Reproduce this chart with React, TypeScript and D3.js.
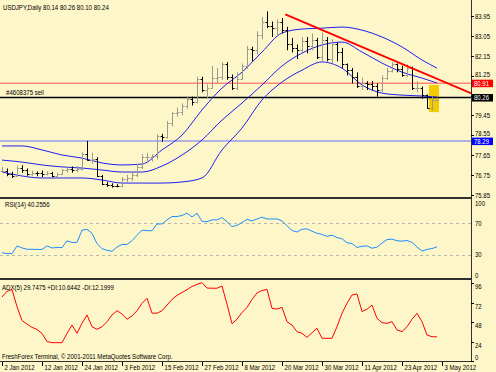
import { useEffect, useRef } from "react";
import * as d3 from "d3";

const W = 496;
const H = 372;

// daily bars [open, high, low, close], 2 Jan 2012 .. 2 May 2012
const bars: number[][] = [
  [76.95, 77.12, 76.84, 76.95], [76.95, 77.05, 76.7, 76.78], [76.78, 76.9, 76.62, 76.72], [76.72, 77.18, 76.68, 77.08],
  [77.08, 77.2, 76.85, 76.98], [76.98, 77.05, 76.72, 76.8], [76.8, 76.95, 76.72, 76.86], [76.86, 76.92, 76.7, 76.84],
  [76.84, 76.96, 76.66, 76.8], [76.8, 76.92, 76.74, 76.86], [76.86, 76.9, 76.66, 76.72], [76.72, 76.86, 76.68, 76.78],
  [76.78, 77.02, 76.75, 76.96], [76.96, 77.1, 76.86, 77.04], [77.04, 77.14, 76.86, 76.96], [76.96, 77.16, 76.88, 77.02],
  [77.02, 77.78, 76.96, 77.7], [77.7, 78.3, 77.4, 77.45], [77.45, 77.76, 77.26, 77.5], [77.5, 77.56, 76.66, 76.7],
  [76.7, 76.76, 76.3, 76.36], [76.36, 76.44, 76.22, 76.3], [76.3, 76.38, 76.18, 76.26], [76.26, 76.34, 76.2, 76.24],
  [76.24, 76.66, 76.2, 76.58], [76.58, 76.76, 76.44, 76.62], [76.62, 76.86, 76.48, 76.76], [76.76, 77.26, 76.66, 77.12],
  [77.12, 77.7, 77.02, 77.56], [77.56, 77.76, 77.32, 77.56], [77.56, 77.7, 77.36, 77.6], [77.6, 78.6, 77.46, 78.5],
  [78.5, 78.62, 78.26, 78.46], [78.46, 79.2, 78.4, 79.1], [79.1, 79.6, 78.96, 79.56], [79.56, 79.8, 79.4, 79.6],
  [79.6, 80.0, 79.46, 79.86], [79.86, 80.3, 79.76, 80.2], [80.2, 80.3, 79.9, 80.06], [80.06, 81.2, 80.0, 81.1],
  [81.1, 81.2, 80.5, 80.6], [80.6, 80.86, 80.2, 80.7], [80.7, 81.7, 80.66, 81.16], [81.16, 81.6, 80.9, 81.2],
  [81.2, 81.86, 81.06, 81.8], [81.8, 81.86, 81.06, 81.2], [81.2, 81.3, 80.6, 80.7], [80.7, 81.4, 80.6, 81.1],
  [81.1, 81.8, 81.06, 81.7], [81.7, 82.6, 81.56, 82.46], [82.46, 82.56, 81.9, 82.4], [82.4, 83.26, 82.2, 83.1],
  [83.1, 83.9, 82.9, 83.7], [83.7, 84.16, 83.4, 83.5], [83.5, 83.7, 83.0, 83.4], [83.4, 83.8, 83.06, 83.7],
  [83.7, 83.86, 83.16, 83.3], [83.3, 83.46, 82.4, 82.7], [82.7, 82.96, 82.3, 82.5], [82.5, 82.66, 82.0, 82.4],
  [82.4, 83.0, 82.3, 82.8], [82.8, 83.0, 82.26, 82.6], [82.6, 83.16, 82.4, 82.86], [82.86, 82.96, 82.0, 82.1],
  [82.1, 83.2, 81.9, 82.86], [82.86, 83.0, 81.9, 82.0], [82.0, 82.9, 81.8, 82.7], [82.7, 82.76, 81.9, 82.3],
  [82.3, 82.5, 81.6, 81.76], [81.76, 81.8, 81.26, 81.5], [81.5, 81.6, 80.9, 81.2], [81.2, 81.4, 80.7, 80.76],
  [80.76, 81.16, 80.6, 80.9], [80.9, 81.0, 80.6, 80.86], [80.86, 81.0, 80.6, 80.8], [80.8, 80.9, 80.3, 80.6],
  [80.6, 81.26, 80.5, 81.16], [81.16, 81.6, 81.06, 81.46], [81.46, 81.86, 81.4, 81.76], [81.76, 81.8, 81.4, 81.56],
  [81.56, 81.7, 81.2, 81.3], [81.3, 81.76, 81.2, 81.6], [81.6, 81.66, 80.6, 80.7], [80.7, 81.0, 80.5, 80.7],
  [80.7, 80.76, 80.2, 80.36], [80.36, 80.4, 79.76, 79.8], [79.8, 80.3, 79.66, 80.14], [80.14, 80.26, 80.1, 80.24],
];

// Bollinger bands read every 4 bars
const bandIdx = [0, 4, 8, 12, 16, 20, 24, 28, 32, 36, 40, 44, 48, 52, 56, 60, 64, 68, 72, 76, 80, 84, 87];
const bbUpper = [78.07, 78.07, 77.89, 77.66, 77.52, 77.3, 77.21, 77.25, 77.89, 78.56, 79.7, 80.69, 81.41, 82.32, 83.18, 83.36, 83.4, 83.45, 83.31, 83.0, 82.55, 81.96, 81.59];
const bbMiddle = [77.43, 77.34, 77.21, 77.12, 77.07, 76.98, 76.89, 76.89, 77.16, 77.66, 78.34, 79.24, 80.01, 80.83, 81.69, 82.27, 82.64, 82.77, 82.32, 81.82, 81.41, 81.14, 80.92];
const bbLower = [76.89, 76.71, 76.62, 76.62, 76.62, 76.53, 76.39, 76.39, 76.39, 76.44, 76.62, 77.89, 78.88, 80.15, 80.96, 81.5, 81.87, 81.59, 80.83, 80.46, 80.37, 80.33, 80.28];

const rsi = [
  33, 31.7, 31.7, 41.4, 38.9, 37.2, 37.2, 37, 37, 41.4, 38.9, 39.4, 39.4, 47.9, 45.8, 45.8, 61.5, 62.4, 57.3, 44.4,
  38, 35.9, 34.6, 40, 43.2, 43.2, 48, 55, 61.5, 60.7, 60.7, 69.2, 69.2, 74.4, 78.6, 78.6, 79.9, 82.9, 78, 82.9,
  72.5, 72, 74.4, 74.4, 77.3, 72, 65.8, 67.5, 71, 75, 73.1, 75.5, 77.8, 75.5, 75.5, 75.6, 73, 67, 61, 59,
  62.5, 63, 60, 57.5, 56, 53.5, 55, 52, 50.5, 45.5, 44.5, 39.5, 41, 41.4, 38.5, 40, 45, 49.5, 50, 48,
  47.5, 48.3, 46, 40, 35, 37, 38.1, 40.2556,
];

const adx = [
  79, 86, 88, 67, 50, 45.5, 41.5, 39, 34, 24, 22.6, 22.6, 22.6, 34, 44.4, 34.2, 46.5, 56.8, 42.3, 39.1,
  42.3, 48.5, 56.8, 62.1, 58, 51.5, 55.6, 62, 71.2, 77.4, 59, 59, 62, 69, 76, 81, 84.5, 88, 92, 94.5,
  96.7, 90, 89.8, 89.8, 92.6, 70, 46, 51.5, 60, 66, 76, 84, 87, 88.5, 65, 64, 66.3, 48.5, 44.4, 36.2,
  34.2, 29.2, 34.9, 40.4, 28, 28, 28, 42.3, 58.9, 71.2, 81.5, 82.7, 61, 64, 69, 52.7, 47.3, 46.5, 48.5, 38.3,
  36.2, 42.3, 51.5, 58.9, 48.5, 32, 30, 29.7475,
];

const dateLabels = ["2 Jan 2012", "12 Jan 2012", "24 Jan 2012", "3 Feb 2012", "15 Feb 2012", "27 Feb 2012", "8 Mar 2012", "20 Mar 2012", "30 Mar 2012", "11 Apr 2012", "23 Apr 2012", "3 May 2012"];
const priceTicks = [83.95, 83.05, 82.15, 81.25, 80.35, 79.45, 78.55, 77.65, 76.75, 75.85];
const rsiTicks = [100, 70, 30, 0];
const adxTicks = [96, 72, 48, 24, 0];

const sellLevel = 80.26;
const alertLevel = 80.91;
const supportLevel = 78.29;
const tagLevels = [alertLevel, sellLevel, supportLevel];
const trendPts = [[56.66, 84.02], [94.14, 80.42]];
const boxPts = [[85.4, 80.83], [87.4, 79.6]];

const BG = "#FDF6C8";
const FONT = "'Liberation Sans', Arial, sans-serif";

export default function App() {
  const ref = useRef<SVGSVGElement>(null);

  useEffect(() => {
    const svg = d3.select(ref.current);
    svg.selectAll("*").remove();

    const plotR = 471;
    const x = d3.scaleLinear().domain([0, 88]).range([2, 442]);
    const yP = d3.scaleLinear().domain([75.85, 83.95]).range([195, 16]);
    const yR = d3.scaleLinear().domain([0, 100]).range([278.7, 199.6]);
    const yA = d3.scaleLinear().domain([0, 96]).range([361, 283.2]);

    const label = (g: any, tx: number, ty: number, t: string, fill = "#000", size = 8, sx = 0.76) =>
      g.append("text")
        .attr("transform", `translate(${tx},${ty}) scale(${sx},1)`)
        .attr("font-family", FONT)
        .attr("font-size", size)
        .attr("fill", fill)
        .text(t);

    svg.append("rect").attr("width", W).attr("height", H).attr("fill", BG);

    const defs = svg.append("defs");
    defs.append("clipPath").attr("id", "cMain").append("rect").attr("x", 0).attr("y", 0).attr("width", plotR).attr("height", 197);
    defs.append("clipPath").attr("id", "cAdx").append("rect").attr("x", 0).attr("y", 280).attr("width", plotR).attr("height", 81);

    // ---- main pane
    const main = svg.append("g").attr("clip-path", "url(#cMain)");

    main.append("rect")
      .attr("x", x(boxPts[0][0])).attr("y", yP(boxPts[0][1]))
      .attr("width", x(boxPts[1][0]) - x(boxPts[0][0]))
      .attr("height", yP(boxPts[1][1]) - yP(boxPts[0][1]))
      .attr("fill", "#F2CC00");

    main.append("line").attr("x1", 0).attr("x2", plotR).attr("y1", yP(supportLevel)).attr("y2", yP(supportLevel))
      .attr("stroke", "#9A9AEE").attr("stroke-width", 1.5);
    main.append("line").attr("x1", 0).attr("x2", plotR).attr("y1", yP(alertLevel)).attr("y2", yP(alertLevel))
      .attr("stroke", "#FF5050").attr("stroke-width", 1);
    main.append("line").attr("x1", 0).attr("x2", plotR).attr("y1", yP(sellLevel)).attr("y2", yP(sellLevel))
      .attr("stroke", "#000").attr("stroke-width", 1.5);

    const band = (vals: number[]) =>
      d3.line<number>().x((_, i) => x(bandIdx[i])).y((d) => yP(d)).curve(d3.curveMonotoneX)(vals);
    [bbUpper, bbMiddle, bbLower].forEach((v) => {
      main.append("path").attr("d", band(v)).attr("fill", "none").attr("stroke", "#2020F0").attr("stroke-width", 1);
    });

    bars.forEach(([o, h, l, c], i) => {
      const cx = Math.round(x(i)) + 0.5;
      const col = c >= o ? "#9A9A90" : "#000";
      const g = main.append("g").attr("stroke", col).attr("stroke-width", 1);
      g.append("line").attr("x1", cx).attr("x2", cx).attr("y1", yP(h)).attr("y2", yP(l));
      g.append("line").attr("x1", cx - 2).attr("x2", cx).attr("y1", Math.round(yP(o)) + 0.5).attr("y2", Math.round(yP(o)) + 0.5);
      g.append("line").attr("x1", cx).attr("x2", cx + 2).attr("y1", Math.round(yP(c)) + 0.5).attr("y2", Math.round(yP(c)) + 0.5);
    });

    main.append("line")
      .attr("x1", x(trendPts[0][0])).attr("y1", yP(trendPts[0][1]))
      .attr("x2", x(trendPts[1][0])).attr("y2", yP(trendPts[1][1]))
      .attr("stroke", "#FF0000").attr("stroke-width", 2);

    const last = bars[bars.length - 1];
    label(svg, 3, 10, `USDJPY,Daily  ${last.map((v) => v.toFixed(2)).join(" ")}`);
    label(svg, 6, 95, "#4608375 sell");

    // ---- RSI pane
    [70, 30].forEach((lv) => {
      svg.append("line").attr("x1", 0).attr("x2", plotR).attr("y1", Math.round(yR(lv)) + 0.5).attr("y2", Math.round(yR(lv)) + 0.5)
        .attr("stroke", "#B8B8B0").attr("stroke-dasharray", "3,3");
    });
    svg.append("path")
      .attr("d", d3.line<number>().x((_, i) => x(i)).y((d) => yR(d))(rsi))
      .attr("fill", "none").attr("stroke", "#1E90FF").attr("stroke-width", 1);
    label(svg, 5, 207, `RSI(14) ${rsi[rsi.length - 1].toFixed(4)}`);

    // ---- ADX pane
    svg.append("g").attr("clip-path", "url(#cAdx)").append("path")
      .attr("d", d3.line<number>().x((_, i) => x(i)).y((d) => yA(d))(adx))
      .attr("fill", "none").attr("stroke", "#FF0000").attr("stroke-width", 1);
    label(svg, 2, 290, `ADX(5) ${adx[adx.length - 1].toFixed(4)} +DI:10.6442 -DI:12.1999`);
    label(svg, 2, 359, "FreshForex Terminal, \u00A9 2001-2011 MetaQuotes Software Corp.");

    // ---- separators and right frame
    svg.append("rect").attr("x", 0).attr("y", 197).attr("width", plotR + 1).attr("height", 2).attr("fill", "#303030");
    svg.append("rect").attr("x", 0).attr("y", 278).attr("width", plotR + 1).attr("height", 2).attr("fill", "#303030");
    svg.append("rect").attr("x", 0).attr("y", 361).attr("width", plotR + 1).attr("height", 1).attr("fill", "#303030");
    svg.append("rect").attr("x", plotR).attr("y", 0).attr("width", 1).attr("height", 362).attr("fill", "#303030");

    // ---- price axis (a tag covers any tick label right under it, as in the terminal)
    priceTicks.forEach((p) => {
      const ty = Math.round(yP(p)) + 0.5;
      svg.append("line").attr("x1", plotR).attr("x2", plotR + 3).attr("y1", ty).attr("y2", ty).attr("stroke", "#000");
      const gaps = tagLevels.map((t) => yP(t) - ty);
      if (gaps.some((d) => Math.abs(d) < 4)) return;
      const crowd = gaps.some((d) => d > 0 && d < 8);
      label(svg, 475, ty + 2.5 - (crowd ? 2 : 0), p.toFixed(2), "#000", 7.5, 0.8);
    });
    const tag = (p: number, fill: string) => {
      const ty = yP(p);
      svg.append("rect").attr("x", 472).attr("y", ty - 3.5).attr("width", 21).attr("height", 7.5).attr("fill", fill);
      label(svg, 474, ty + 2.5, p.toFixed(2), "#fff", 7.5, 0.8);
    };
    tag(alertLevel, "#FF0000");
    tag(sellLevel, "#000");
    tag(supportLevel, "#0000FF");

    rsiTicks.forEach((v) => {
      const ty = Math.min(Math.max(yR(v), 203.5), 275);
      label(svg, 475, ty + 2.5, String(v), "#000", 7.5, 0.8);
    });
    adxTicks.forEach((v) => {
      const ty = Math.min(yA(v) + 3.5, 357);
      svg.append("line").attr("x1", plotR).attr("x2", plotR + 3).attr("y1", Math.round(yA(v)) + 0.5).attr("y2", Math.round(yA(v)) + 0.5).attr("stroke", "#000");
      label(svg, 475, ty + 2.5, String(v), "#000", 7.5, 0.8);
    });

    // ---- time axis
    dateLabels.forEach((t, k) => {
      const tx = Math.round(x(k * 8)) + 0.5;
      svg.append("line").attr("x1", tx).attr("x2", tx).attr("y1", 362).attr("y2", 366).attr("stroke", "#000");
      label(svg, tx + 2, 370, t);
    });
  }, []);

  return (
    <div style={{ position: "absolute", left: 0, top: 0, width: W, height: H }}>
      <svg ref={ref} width={W} height={H} style={{ display: "block" }} />
    </div>
  );
}
